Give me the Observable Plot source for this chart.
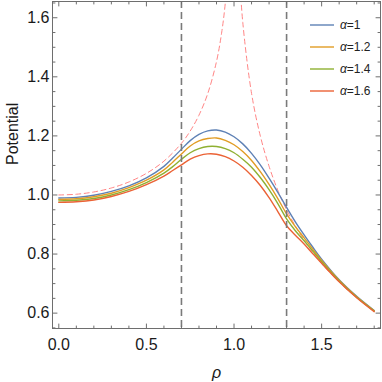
<!DOCTYPE html>
<html><head><meta charset="utf-8">
<script src="https://cdn.jsdelivr.net/npm/d3@7"></script>
<script src="https://cdn.jsdelivr.net/npm/@observablehq/plot@0.6"></script>
<style>
body{margin:0;background:#fff;}
#wrap{position:relative;width:382px;height:382px;font-family:"Liberation Sans",Arial,sans-serif;}
.legend{position:absolute;left:310px;top:14px;font-size:12px;color:#222;}
.legend .row{display:flex;align-items:center;height:22px;}
.legend svg{margin-right:6px;}
</style></head><body><div id="wrap"></div><script>
// radial coordinate samples
const rho = [0, 0.1, 0.2, 0.3, 0.4, 0.5, 0.6, 0.65, 0.7, 0.75, 0.8, 0.85, 0.9, 0.95, 1.0, 1.05, 1.1, 1.15, 1.2, 1.25, 1.3, 1.35, 1.4, 1.45, 1.5, 1.6, 1.7, 1.8];
const alpha1  = [0.990, 0.992, 0.999, 1.012, 1.031, 1.058, 1.097, 1.125, 1.155, 1.184, 1.205, 1.217, 1.220, 1.213, 1.197, 1.173, 1.141, 1.102, 1.057, 1.009, 0.958, 0.909, 0.865, 0.823, 0.783, 0.713, 0.657, 0.609];
const alpha12 = [0.985, 0.987, 0.994, 1.006, 1.025, 1.050, 1.085, 1.111, 1.139, 1.166, 1.183, 1.191, 1.193, 1.185, 1.170, 1.147, 1.117, 1.079, 1.036, 0.988, 0.936, 0.893, 0.855, 0.816, 0.778, 0.711, 0.655, 0.608];
const alpha14 = [0.980, 0.982, 0.988, 1.000, 1.018, 1.042, 1.074, 1.096, 1.121, 1.143, 1.157, 1.164, 1.164, 1.157, 1.143, 1.121, 1.094, 1.059, 1.018, 0.971, 0.919, 0.879, 0.845, 0.810, 0.774, 0.709, 0.654, 0.607];
const alpha16 = [0.975, 0.977, 0.983, 0.995, 1.012, 1.035, 1.064, 1.083, 1.102, 1.121, 1.133, 1.139, 1.138, 1.130, 1.115, 1.094, 1.066, 1.032, 0.991, 0.944, 0.896, 0.864, 0.834, 0.801, 0.769, 0.706, 0.652, 0.605];
const alphaValues = ["1", "1.2", "1.4", "1.6"];
const seriesColors = ["#5E81B5", "#E19C24", "#8FB032", "#EB6235"];
// thin-ring reference (dashed), inside and outside branch
const ringRhoInner = [0, 0.1, 0.2, 0.3, 0.4, 0.5, 0.6, 0.7, 0.75, 0.8, 0.85, 0.9, 0.93, 0.95, 0.97];
const ringInner    = [1.000, 1.0025, 1.0102, 1.0237, 1.0441, 1.0732, 1.1146, 1.1750, 1.2166, 1.2703, 1.3432, 1.4518, 1.5518, 1.6489, 1.800];
const ringRhoOuter = [1.03, 1.05, 1.1, 1.15, 1.2, 1.25, 1.3, 1.35, 1.4, 1.5, 1.6, 1.7, 1.8];
const ringOuter    = [1.757, 1.584, 1.344, 1.200, 1.097, 1.016, 0.950, 0.895, 0.847, 0.768, 0.705, 0.652, 0.608];
// annulus edges
const edges = [0.7, 1.3];
// ticks
const xMajor = [0, 0.5, 1.0, 1.5];
const xMinor = [0.1, 0.2, 0.3, 0.4, 0.6, 0.7, 0.8, 0.9, 1.1, 1.2, 1.3, 1.4, 1.6, 1.7, 1.8];
const yMajor = [0.6, 0.8, 1.0, 1.2, 1.4, 1.6];
const yMinor = [0.55, 0.65, 0.7, 0.75, 0.85, 0.9, 0.95, 1.05, 1.1, 1.15, 1.25, 1.3, 1.35, 1.45, 1.5, 1.55, 1.65];
const xLabel = "ρ";
const yLabel = "Potential";

const series = [alpha1, alpha12, alpha14, alpha16];
const labels = alphaValues.map(a => "α=" + a);
const rows = [];
series.forEach((vals, s) => vals.forEach((v, i) => rows.push({rho: rho[i], V: v, s: labels[s]})));
const ring = [
  ...ringRhoInner.map((r, i) => ({rho: r, V: ringInner[i], seg: "in"})),
  ...ringRhoOuter.map((r, i) => ({rho: r, V: ringOuter[i], seg: "out"}))
];
const fmt = d3.format(".1f");
const frameColor = "#6e6e6e";
const tickShape = {draw(ctx, l) { ctx.moveTo(0, 0); ctx.lineTo(0, -l); }};
const tk = (data, ch, anchor, rot, len) => Plot.vector(data, {[ch]: d => d, frameAnchor: anchor, rotate: rot, length: len, anchor: "start", shape: tickShape, stroke: frameColor, strokeWidth: 1});

const chart = Plot.plot({
  width: 382, height: 382,
  marginLeft: 52, marginRight: 2, marginTop: 1, marginBottom: 54,
  style: {fontFamily: "'Liberation Sans', Arial, sans-serif", background: "white"},
  x: {domain: [-0.036, 1.836], axis: null},
  y: {domain: [0.548, 1.655], axis: null},
  color: {domain: labels, range: seriesColors},
  marks: [
    Plot.line(ring, {x: "rho", y: "V", z: "seg", stroke: "#ff8585", strokeWidth: 1, strokeDasharray: "5,3.5", curve: "catmull-rom", clip: true}),
    Plot.line(rows, {x: "rho", y: "V", z: "s", stroke: "s", strokeWidth: 1.4, curve: "catmull-rom", clip: true}),
    Plot.ruleX(edges, {x: d => d, stroke: "#7a7a7a", strokeWidth: 1.6, strokeDasharray: "7,4"}),
    Plot.frame({stroke: frameColor, strokeWidth: 1}),
    tk(xMajor, "x", "bottom", 0, 4.5), tk(xMinor, "x", "bottom", 0, 2.5),
    tk(xMajor, "x", "top", 180, 4.5), tk(xMinor, "x", "top", 180, 2.5),
    tk(yMajor, "y", "left", 90, 4.5), tk(yMinor, "y", "left", 90, 2.5),
    tk(yMajor, "y", "right", -90, 4.5), tk(yMinor, "y", "right", -90, 2.5),
    Plot.text(xMajor, {x: d => d, text: d => fmt(d), frameAnchor: "bottom", dy: 16, lineAnchor: "middle", fontSize: 16, fill: "#1a1a1a"}),
    Plot.text(yMajor, {y: d => d, text: d => fmt(d), frameAnchor: "left", dx: -3, textAnchor: "end", lineAnchor: "middle", fontSize: 16, fill: "#1a1a1a"}),
    Plot.text([xLabel], {text: d => d, frameAnchor: "bottom", dy: 44, lineAnchor: "middle", fontSize: 16, fontStyle: "italic", fill: "#1a1a1a"}),
    Plot.text([yLabel], {text: d => d, frameAnchor: "left", dx: -40, rotate: -90, lineAnchor: "middle", fontSize: 16, fill: "#1a1a1a"})
  ]
});
const wrap = document.getElementById("wrap");
wrap.appendChild(chart);
const leg = document.createElement("div");
leg.className = "legend";
alphaValues.forEach((a, i) => {
  const row = document.createElement("div");
  row.className = "row";
  row.innerHTML = `<svg width="24" height="10"><line x1="0" y1="5" x2="24" y2="5" stroke="${seriesColors[i]}" stroke-width="1.4"/></svg><span><i>α</i>=${a}</span>`;
  leg.appendChild(row);
});
wrap.appendChild(leg);
</script></body></html>
